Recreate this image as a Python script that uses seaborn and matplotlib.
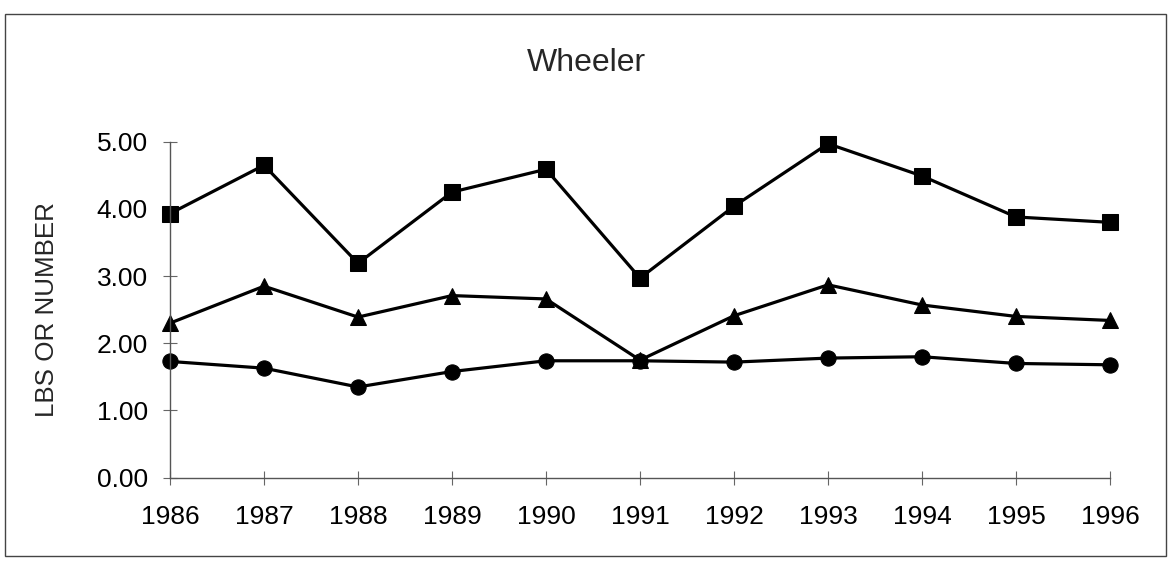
import matplotlib
matplotlib.use("Agg")
import matplotlib.pyplot as plt
from matplotlib.patches import Rectangle
import numpy as np
import pandas as pd
import seaborn as sns

years = [1986, 1987, 1988, 1989, 1990, 1991, 1992, 1993, 1994, 1995, 1996]
squares = [3.93, 4.65, 3.19, 4.25, 4.59, 2.97, 4.04, 4.97, 4.49, 3.88, 3.80]
triangles = [2.30, 2.85, 2.39, 2.71, 2.66, 1.75, 2.41, 2.87, 2.57, 2.40, 2.34]
circles = [1.73, 1.63, 1.35, 1.58, 1.74, 1.74, 1.72, 1.78, 1.80, 1.70, 1.68]
yticks = [0, 1, 2, 3, 4, 5]

sns.set_style("white")
plt.rcParams['font.family'] = ['Liberation Sans', 'DejaVu Sans']

fig = plt.figure(figsize=(11.7, 5.69), dpi=100)
ax = fig.add_axes([170 / 1170, 1 - 477.7 / 569, 940 / 1170, 336 / 569])

series = [(squares, 's', 11), (triangles, '^', 12), (circles, 'o', 11)]
for vals, mk, ms in series:
    d = pd.DataFrame({'year': years, 'val': vals})
    sns.lineplot(data=d, x='year', y='val', ax=ax, color='black', linewidth=2.3,
                 marker=mk, markersize=ms, markeredgecolor='black',
                 markerfacecolor='black', clip_on=False)

ax.set_xlim(1986, 1996)
ax.set_ylim(0, 5)
ax.set_xticks(years)
ax.set_xticklabels([str(y) for y in years])
ax.set_yticks(yticks)
ax.set_yticklabels(['%.2f' % v for v in yticks])
ax.set_xlabel('')
ax.set_ylabel('LBS OR NUMBER', fontsize=18.7, va='center')
ax.yaxis.set_label_coords((47 - 170) / 940, 0.5)

ax.tick_params(axis='both', direction='inout', length=10, width=0.8,
               color='#666666', labelsize=19, labelcolor='black',
               bottom=True, left=True)
ax.tick_params(axis='x', pad=15)
ax.tick_params(axis='y', pad=11)
ax.spines['top'].set_visible(False)
ax.spines['right'].set_visible(False)
for s in ['left', 'bottom']:
    ax.spines[s].set_color('#555555')
    ax.spines[s].set_linewidth(1)
ax.grid(False)

fig.text(586 / 1170, 1 - 63 / 569, 'Wheeler', fontsize=23, ha='center', va='center')

fig.patches.append(Rectangle((5 / 1170, 1 - 556 / 569), 1161 / 1170, 542 / 569,
                             transform=fig.transFigure, fill=False,
                             edgecolor='#444444', linewidth=1))

fig.savefig('out.png', dpi=100)
